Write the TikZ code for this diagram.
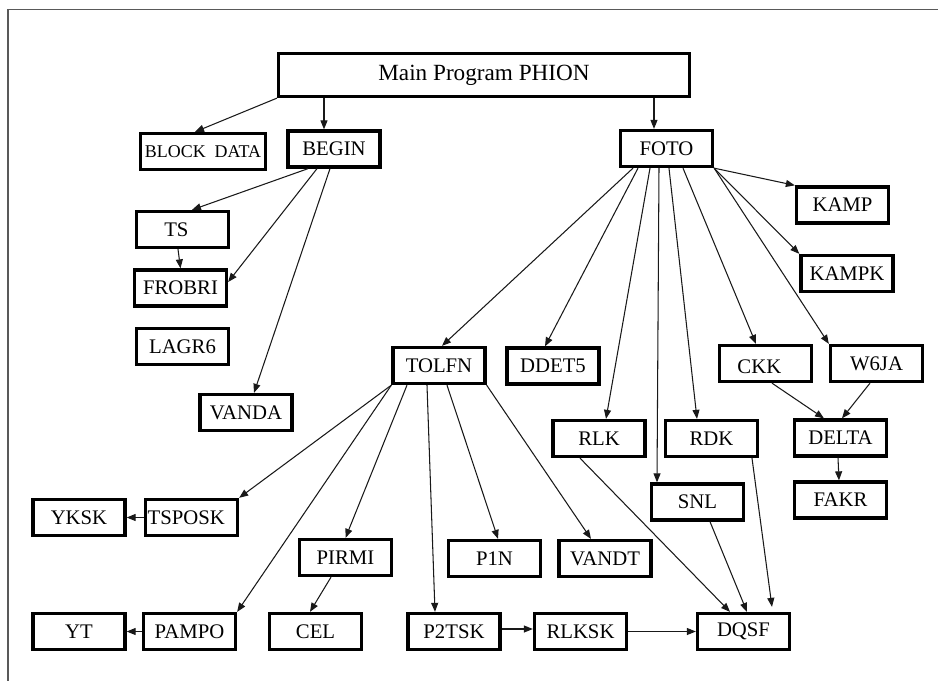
\documentclass[tikz,border=0pt]{standalone}
\usepackage{fontspec}
\setmainfont{Liberation Serif}
\usetikzlibrary{arrows.meta,calc}

\begin{document}
\begin{tikzpicture}[
  x=0.02cm, y=-0.02cm,
  box/.style={draw=black, line width=2.05pt, inner sep=0pt,
    minimum width=1.834cm, minimum height=0.714cm,
    font=\fontsize{11.8}{13}\selectfont, text=black},
  arr/.style={-{Triangle[length=1.8mm,width=1.4mm]}, line width=0.6pt, draw=black!90},
  frame/.style={draw=black!65, line width=1pt}
]
\useasboundingbox (0,0) rectangle (938,681);

% outer frame (top and left edges)
\draw[frame] (938,9.5) -- (8.3,9.5) -- (8.3,681);

% top level
\node[box, minimum width=8.214cm, minimum height=0.854cm,
      font=\fontsize{13.2}{15}\selectfont] (main) at (484,75) {Main Program PHION};
\node[box, minimum width=2.494cm, font=\fontsize{10.2}{12}\selectfont]
      (blockdata) at (203,151.5) {BLOCK\enspace DATA};
\node[box] (begin) at (334,149) {BEGIN};
\node[box] (foto) at (666.5,148.5) {FOTO};

% BEGIN branch
\node[box] (ts) at (182.5,229.5) {\hspace*{-7pt}TS};
\node[box] (frobri) at (180.5,288) {FROBRI};
\node[box] (lagr6) at (182.5,346.5) {LAGR6};
\node[box] (vanda) at (246,412.5) {VANDA};

% FOTO branch
\node[box] (kamp) at (842.5,205) {KAMP};
\node[box] (kampk) at (847,273.5) {KAMPK};
\node[box] (tolfn) at (439,365.5) {TOLFN};
\node[box] (ddet5) at (553,366) {DDET5};
\node[box] (ckk) at (765.5,363.5) {\raisebox{-2pt}[\height][0pt]{CKK}\hspace*{7pt}};
\node[box] (w6ja) at (876.5,363.5) {W6JA};
\node[box] (rlk) at (599,438.5) {RLK};
\node[box] (rdk) at (711.5,438.5) {RDK};
\node[box] (delta) at (840.5,438) {DELTA};
\node[box] (fakr) at (840.5,500) {FAKR};
\node[box] (snl) at (697.5,502) {SNL};
\node[box] (dqsf) at (743.5,631.5) {DQSF};

% TOLFN branch
\node[box] (yksk) at (79,517.5) {YKSK};
\node[box] (tsposk) at (191.5,517.5) {TSPOSK\hspace*{6pt}};
\node[box] (pirmi) at (345.5,557.5) {PIRMI};
\node[box] (p1n) at (494.5,558.5) {P1N};
\node[box] (vandt) at (605,558.5) {VANDT};
\node[box] (yt) at (79,631.5) {YT};
\node[box] (pampo) at (189.5,631.5) {PAMPO};
\node[box] (cel) at (315.5,631.5) {CEL};
\node[box] (p2tsk) at (454,631.5) {P2TSK};
\node[box] (rlksk) at (580.5,631.5) {RLKSK};

% calls from the main program
\coordinate (bt) at ($(begin.north)+(-10,0)$);
\coordinate (ft) at ($(foto.north)+(-12.5,0)$);
\draw[arr] (main.south west) -- ($(blockdata.north)+(-8,0)$);
\draw[arr] (bt |- main.south) -- (bt);
\draw[arr] (ft |- main.south) -- (ft);

% calls from BEGIN
\draw[arr] ($(begin.south)+(-26,0)$) -- ($(ts.north)+(9.5,0)$);
\draw[arr] ($(begin.south)+(-17,0)$) -- ($(frobri.east)+(0,-6)$);
\draw[arr] ($(begin.south)+(-4,0)$) -- ($(vanda.north)+(8,0)$);
\draw[arr] ($(ts.south)+(-4.5,0)$) -- (frobri.north);

% calls from FOTO
\draw[arr] (foto.south east) -- (kamp.north west);
\draw[arr] (foto.south east) -- (kampk.north west);
\draw[arr] (foto.south east) -- (w6ja.north west);
\draw[arr] ($(foto.south)+(-33.5,0)$) -- ($(tolfn.north)+(3,0)$);
\draw[arr] ($(foto.south)+(-28.5,0)$) -- ($(ddet5.north)+(-8,0)$);
\draw[arr] ($(foto.south)+(-16.5,0)$) -- ($(rlk.north)+(7,0)$);
\draw[arr] ($(foto.south)+(-7.5,0)$) -- ($(snl.north)+(-40.5,0)$);
\draw[arr] ($(foto.south)+(2.5,0)$) -- ($(rdk.north)+(-14.5,0)$);
\draw[arr] ($(foto.south)+(16.5,0)$) -- ($(ckk.north)+(-9.5,0)$);

% calls from TOLFN
\draw[arr] (tolfn.south west) -- (tsposk.north east);
\draw[arr] (tolfn.south west) -- (pampo.north east);
\draw[arr] ($(tolfn.south)+(-32,0)$) -- (pirmi.north);
\draw[arr] ($(tolfn.south)+(-12,0)$) -- ($(p2tsk.north)+(-19,0)$);
\draw[arr] ($(tolfn.south)+(8,0)$) -- ($(p1n.north)+(3.5,0)$);
\draw[arr] (tolfn.south east) -- ($(vandt.north)+(-14,0)$);

% lower level calls
\draw[arr] (tsposk.west) -- (yksk.east);
\draw[arr] (pampo.west) -- (yt.east);
\draw[arr] ($(pirmi.south)+(-14.5,0)$) -- ($(cel.north)+(-5.5,0)$);
\draw[arr] ($(p2tsk.east)+(0,-2.5)$) -- ($(rlksk.west)+(0,-2.5)$);
\draw[arr] (rlksk.east) -- (dqsf.west);
\draw[arr] ($(rlk.south)+(-19,0)$) -- ($(dqsf.north)+(-13.5,0)$);
\draw[arr] ($(snl.south)+(12.5,0)$) -- ($(dqsf.north)+(3.5,0)$);
\draw[arr] ($(rdk.south)+(40.5,0)$) -- ($(dqsf.north)+(28.5,-5)$);
\draw[arr] ($(ckk.south)+(6.5,0)$) -- ($(delta.north)+(-16.5,0)$);
\draw[arr] ($(w6ja.south)+(-6.5,0)$) -- ($(delta.north)+(1.5,0)$);
\draw[arr] ($(delta.south)+(-2.5,0)$) -- ($(fakr.north)+(-1.5,0)$);
\end{tikzpicture}
\end{document}
